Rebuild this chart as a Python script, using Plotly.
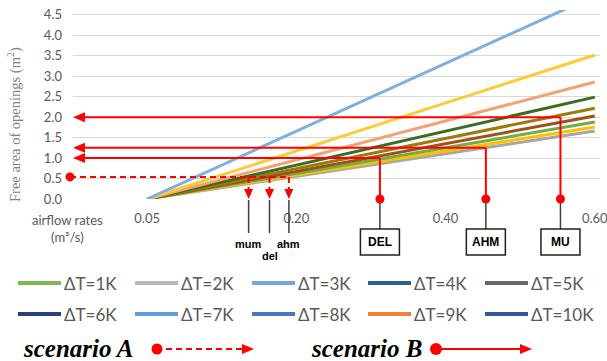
import plotly.graph_objects as go

# ---------------- data ----------------
categories = ["0.05", "0.20", "0.40", "0.60"]          # airflow rates (m³/s)

area_a = [0.0, 1.66, 3.31, 4.97]   # light blue (steepest)
area_b = [0.0, 1.17, 2.35, 3.52]   # yellow
area_c = [0.0, 0.95, 1.91, 2.86]   # salmon
area_d = [0.0, 0.83, 1.66, 2.49]   # dark green
area_e = [0.0, 0.74, 1.48, 2.22]   # olive
area_f = [0.0, 0.68, 1.35, 2.03]   # brown
area_g = [0.0, 0.63, 1.25, 1.88]   # green
area_h = [0.0, 0.59, 1.17, 1.76]   # gold
area_i = [0.0, 0.55, 1.11, 1.66]   # gray
series_values = [area_i, area_h, area_g, area_f, area_e, area_d, area_c, area_b, area_a]
series_colors = ["#A6A6A6", "#FFC000", "#70AD47", "#A0501E", "#9C7A0C",
                 "#3D6B22", "#F4A273", "#FFCA38", "#7DB0DE"]

legend_labels = ["ΔT=1K", "ΔT=2K", "ΔT=3K", "ΔT=4K", "ΔT=5K",
                 "ΔT=6K", "ΔT=7K", "ΔT=8K", "ΔT=9K", "ΔT=10K"]
legend_colors = ["#7CB955", "#B8B8B8", "#7AA3DC", "#2B5F8F", "#666666",
                 "#27427A", "#5F9ED6", "#4A74C4", "#EE8235", "#33579E"]

y_ticks = [0.0, 0.5, 1.0, 1.5, 2.0, 2.5, 3.0, 3.5, 4.0, 4.5]

# scenario B (solid): required area and airflow position (category index units)
scenB_names = ["DEL", "AHM", "MU"]
scenB_pos = [1.56, 2.27, 2.77]
scenB_area = [1.00, 1.25, 2.00]
# scenario A (dashed)
scenA_names = ["mum", "del", "ahm"]
scenA_pos = [0.68, 0.82, 0.95]
scenA_area = 0.54

# ---------------- layout geometry ----------------
W, H = 607, 361
ML, MR, MT, MB = 73, 7, 10, 162
PW, PH = W - ML - MR, H - MT - MB
XR = [-0.497, 3.035]
YR = [0, 4.62]


def dx(v):  # x data (category index) -> paper
    return (v - XR[0]) / (XR[1] - XR[0])


def dy(v):  # y data -> paper
    return (v - YR[0]) / (YR[1] - YR[0])


def px(p):  # pixel x -> paper
    return (p - ML) / PW


def py(p):  # pixel y -> paper
    return (H - MB - p) / PH


fig = go.Figure()
for vals, col in zip(series_values, series_colors):
    fig.add_trace(go.Scatter(x=categories, y=vals, mode="lines",
                             line=dict(color=col, width=3),
                             showlegend=False, hoverinfo="skip"))

shapes = []
annos = []
RED = "#FF0000"
DARK = "#404040"


def dot(xp, yp, r, color=RED):
    shapes.append(dict(type="circle", xref="paper", yref="paper",
                       xsizemode="pixel", ysizemode="pixel",
                       xanchor=xp, yanchor=yp, x0=-r, x1=r, y0=-r, y1=r,
                       fillcolor=color, line=dict(width=0)))


def tri(xp, yp, path, color=RED):
    shapes.append(dict(type="path", xref="paper", yref="paper",
                       xsizemode="pixel", ysizemode="pixel",
                       xanchor=xp, yanchor=yp, path=path,
                       fillcolor=color, line=dict(width=0)))


def seg(x0, y0, x1, y1, color=RED, width=2, dash="solid"):
    shapes.append(dict(type="line", xref="paper", yref="paper",
                       x0=x0, y0=y0, x1=x1, y1=y1,
                       line=dict(color=color, width=width, dash=dash)))


def text(x, y, s, font, xanchor="center", yshift=0, angle=0):
    annos.append(dict(x=x, y=y, xref="paper", yref="paper", text=s,
                      xanchor=xanchor, yanchor="middle", yshift=yshift,
                      textangle=angle, showarrow=False, font=font))


# scenario B arrows
for name, pos, area in zip(scenB_names, scenB_pos, scenB_area):
    xp = dx(pos)
    seg(xp, dy(0), xp, dy(area))
    seg(px(80), dy(area), xp, dy(area))
    tri(0, dy(area), "M0,0 L12,5 L12,-5 Z")
    dot(xp, dy(0), 4.5)
    shapes.append(dict(type="line", xref="paper", yref="paper",
                       ysizemode="pixel", yanchor=dy(0), x0=xp, x1=xp,
                       y0=-4, y1=-30, line=dict(color=DARK, width=1.5)))
    shapes.append(dict(type="rect", xref="paper", yref="paper",
                       xsizemode="pixel", ysizemode="pixel",
                       xanchor=xp, yanchor=dy(0), x0=-19.5, x1=19.5,
                       y0=-30, y1=-56, fillcolor="white",
                       line=dict(color="#202020", width=1.5)))
    text(xp, dy(0), "<b>" + name + "</b>",
         dict(family="Liberation Sans", size=12, color="black"), yshift=-43)

# scenario A dashed arrows
seg(px(70), dy(scenA_area), dx(max(scenA_pos)), dy(scenA_area), dash="6px,4px")
dot(px(70), dy(scenA_area), 4.5)
label_shift = [-45, -57, -45]
for name, pos, ys in zip(scenA_names, scenA_pos, label_shift):
    xp = dx(pos)
    seg(xp, dy(scenA_area), xp, dy(0) + 9 / PH, dash="6px,4px")
    tri(xp, dy(0), "M-4.5,10 L4.5,10 L0,0 Z")
    shapes.append(dict(type="line", xref="paper", yref="paper",
                       ysizemode="pixel", yanchor=dy(0), x0=xp, x1=xp,
                       y0=-1, y1=-34, line=dict(color=DARK, width=1.5)))
    text(xp, dy(0), "<b>" + name + "</b>",
         dict(family="Liberation Sans", size=11, color="black"), yshift=ys)

# manual legend
leg_x = [18, 135, 252, 368, 485]
leg_y = [283, 314]
for i, (lab, col) in enumerate(zip(legend_labels, legend_colors)):
    r, c = divmod(i, 5)
    x0 = leg_x[c]
    seg(px(x0), py(leg_y[r]), px(x0 + 43), py(leg_y[r]), color=col, width=4)
    text(px(x0 + 44), py(leg_y[r]), lab,
         dict(family="Lato", size=17, color="#595959"), xanchor="left")

# scenario legend row
sy = py(349)
text(px(21), sy, "<b><i>scenario A</i></b>",
     dict(family="Liberation Serif", size=25, color="black"), xanchor="left")
dot(px(157), sy, 5.5)
seg(px(166), sy, px(242), sy, dash="6px,4px")
tri(px(254), sy, "M0,0 L-12,5 L-12,-5 Z")
text(px(309), sy, "<b><i>scenario B</i></b>",
     dict(family="Liberation Serif", size=25, color="black"), xanchor="left")
dot(px(436), sy, 6)
seg(px(440), sy, px(522), sy)
tri(px(532), sy, "M0,0 L-12,5 L-12,-5 Z")

# axis titles
text(px(14), py(125), "Free area of openings (m<sup>2</sup>)",
     dict(family="Liberation Serif", size=14.5, color="#7F7F7F"), angle=-90)
text(px(67), py(229), "airflow rates<br>(m³/s)",
     dict(family="Lato", size=13, color="#595959"))

fig.update_layout(
    width=W, height=H,
    margin=dict(l=ML, r=MR, t=MT, b=MB, autoexpand=False),
    paper_bgcolor="white", plot_bgcolor="white",
    showlegend=False,
    shapes=shapes, annotations=annos,
    xaxis=dict(type="category", range=XR, showgrid=False, zeroline=False,
               showline=False, ticks="", ticklabelstandoff=10, automargin=False,
               tickfont=dict(family="Lato", size=13, color="#595959")),
    yaxis=dict(range=YR, tickvals=y_ticks,
               ticktext=[f"{v:.1f}" for v in y_ticks], automargin=False,
               showgrid=True, gridcolor="#D9D9D9", gridwidth=1.2,
               zeroline=False, showline=False, ticks="", ticklabelstandoff=10,
               tickfont=dict(family="Lato", size=13, color="#595959")),
)

fig.write_html("out.html", config={"displayModeBar": False},
               post_script="document.body.style.margin='0';"
                           "document.body.style.overflow='hidden';")
